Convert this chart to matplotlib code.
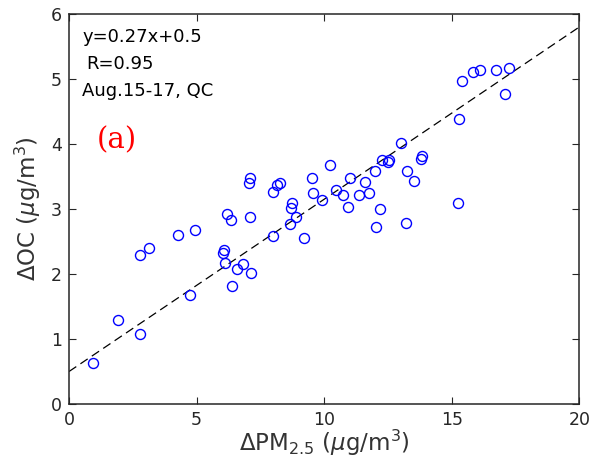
import matplotlib.pyplot as plt

plt.rcParams['font.family'] = ['DejaVu Sans']
plt.rcParams['mathtext.fontset'] = 'dejavusans'

# delta PM2.5 vs delta OC, Aug.15-17, QC
d_pm25 = [0.94, 1.93, 2.78, 2.78, 3.14, 4.29, 4.93, 4.76, 6.03, 6.09,
          6.13, 6.21, 6.34, 6.38, 6.59, 6.80, 7.14, 7.10, 7.06, 7.11,
          8.00, 8.00, 8.14, 8.26, 8.69, 8.74, 8.91, 8.65, 9.21, 9.57,
          9.54, 9.92, 10.22, 10.48, 10.72, 10.94, 11.03, 11.37, 11.59, 11.75,
          11.99, 12.18, 12.03, 12.27, 12.51, 12.55, 13.00, 13.22, 13.26, 13.52,
          13.79, 13.82, 15.23, 15.27, 15.39, 15.84, 16.12, 16.72, 17.23, 17.07]
d_oc = [0.63, 1.30, 1.08, 2.30, 2.40, 2.60, 2.68, 1.68, 2.33, 2.37,
        2.17, 2.92, 2.83, 1.82, 2.08, 2.15, 2.02, 2.88, 3.40, 3.48,
        2.59, 3.26, 3.37, 3.40, 3.01, 3.10, 2.87, 2.77, 2.56, 3.24,
        3.48, 3.14, 3.68, 3.30, 3.22, 3.03, 3.48, 3.22, 3.42, 3.25,
        3.58, 3.00, 2.72, 3.75, 3.73, 3.75, 4.01, 2.78, 3.58, 3.43,
        3.77, 3.82, 3.09, 4.39, 4.97, 5.11, 5.14, 5.14, 5.17, 4.77]

fit_slope = 0.265
fit_intercept = 0.5
fit_x = [0, 20]
fit_y = [fit_slope * x + fit_intercept for x in fit_x]

fig = plt.figure(figsize=(5.93, 4.67), dpi=100)
ax = fig.add_axes([0.1164, 0.1349, 0.8605, 0.8351])

ax.plot(fit_x, fit_y, '--', color='black', lw=0.9, dashes=(7, 4))
ax.plot(d_pm25, d_oc, 'o', mfc='none', mec='blue', mew=1.0, ms=7.2)

ax.set_xlim(0, 20)
ax.set_ylim(0, 6)
ax.set_xticks([0, 5, 10, 15, 20])
ax.set_yticks([0, 1, 2, 3, 4, 5, 6])
ax.tick_params(direction='in', top=True, right=True, length=5, labelsize=12.5, colors='#262626', pad=5)
for s in ax.spines.values():
    s.set_linewidth(1.1)
    s.set_color('#262626')

ax.set_xlabel(r'$\Delta$PM$_{2.5}$ ($\mu$g/m$^3$)', fontsize=16.5, color='#333333', labelpad=-1)
ax.set_ylabel(r'$\Delta$OC ($\mu$g/m$^3$)', fontsize=16.5, color='#333333', labelpad=6)

ax.text(0.54, 5.78, 'y=0.27x+0.5', fontsize=13, va='top')
ax.text(0.66, 5.37, 'R=0.95', fontsize=13, va='top')
ax.text(0.5, 4.95, 'Aug.15-17, QC', fontsize=13, va='top')
ax.text(1.09, 4.06, '(a)', fontsize=21, color='red', family='DejaVu Serif', va='center')

plt.savefig('out.png', dpi=100)
